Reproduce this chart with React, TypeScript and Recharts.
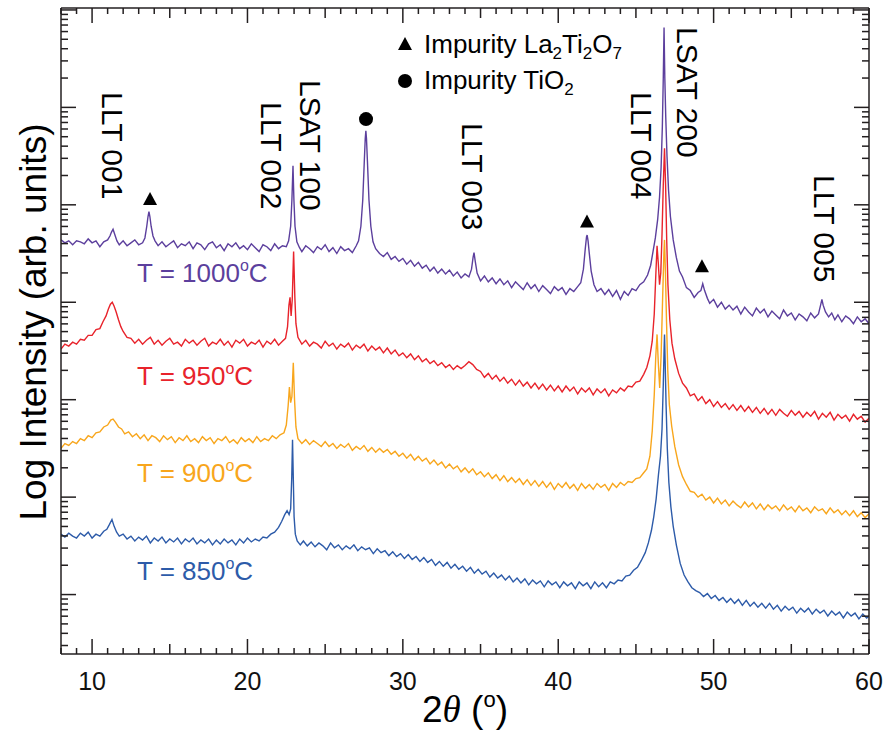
import React from "react";
import { LineChart, Line, XAxis, YAxis, ReferenceDot } from "recharts";

// [2θ (deg), log10 intensity]
const scan1000: number[][] = [
  [8.0, 4.64], [8.25, 4.61], [8.5, 4.63], [8.75, 4.59], [9.0, 4.63], [9.25, 4.62], [9.5, 4.6], [9.75, 4.65],
  [10.0, 4.61], [10.25, 4.63], [10.5, 4.57], [10.75, 4.62], [11.0, 4.64], [11.15, 4.68], [11.25, 4.72],
  [11.35, 4.75], [11.45, 4.7], [11.6, 4.63], [11.75, 4.59], [12.0, 4.63], [12.25, 4.58], [12.5, 4.61],
  [12.75, 4.64], [13.0, 4.59], [13.25, 4.61], [13.4, 4.66], [13.52, 4.78], [13.6, 4.88], [13.66, 4.93],
  [13.72, 4.88], [13.8, 4.78], [13.92, 4.68], [14.05, 4.63], [14.25, 4.58], [14.5, 4.62], [14.75, 4.57],
  [15.0, 4.6], [15.25, 4.63], [15.5, 4.56], [15.75, 4.6], [16.0, 4.58], [16.25, 4.62], [16.5, 4.55],
  [16.75, 4.61], [17.0, 4.59], [17.25, 4.54], [17.5, 4.6], [17.75, 4.62], [18.0, 4.56], [18.25, 4.59],
  [18.5, 4.53], [18.75, 4.6], [19.0, 4.57], [19.25, 4.61], [19.5, 4.55], [19.75, 4.58], [20.0, 4.54],
  [20.25, 4.6], [20.5, 4.56], [20.75, 4.52], [21.0, 4.59], [21.25, 4.57], [21.5, 4.53], [21.75, 4.6],
  [22.0, 4.55], [22.25, 4.58], [22.5, 4.57], [22.65, 4.63], [22.78, 4.78], [22.86, 5.05], [22.93, 5.4],
  [22.99, 5.05], [23.06, 4.78], [23.18, 4.62], [23.35, 4.56], [23.5, 4.52], [23.75, 4.58], [24.0, 4.55],
  [24.25, 4.51], [24.5, 4.57], [24.75, 4.54], [25.0, 4.59], [25.25, 4.52], [25.5, 4.56], [25.75, 4.5],
  [26.0, 4.57], [26.25, 4.53], [26.5, 4.55], [26.75, 4.51], [27.0, 4.58], [27.15, 4.63], [27.3, 4.78],
  [27.42, 5.05], [27.52, 5.45], [27.58, 5.68], [27.62, 5.76], [27.66, 5.68], [27.72, 5.45], [27.82, 5.05],
  [27.94, 4.78], [28.08, 4.62], [28.25, 4.55], [28.5, 4.5], [28.75, 4.47], [29.0, 4.51], [29.25, 4.44],
  [29.5, 4.47], [29.75, 4.42], [30.0, 4.45], [30.25, 4.39], [30.5, 4.43], [30.75, 4.37], [31.0, 4.41],
  [31.25, 4.35], [31.5, 4.38], [31.75, 4.32], [32.0, 4.36], [32.25, 4.3], [32.5, 4.34], [32.75, 4.29],
  [33.0, 4.33], [33.25, 4.27], [33.5, 4.31], [33.75, 4.25], [34.0, 4.29], [34.25, 4.26], [34.42, 4.34],
  [34.52, 4.46], [34.58, 4.51], [34.66, 4.42], [34.78, 4.3], [35.0, 4.22], [35.25, 4.27], [35.5, 4.21],
  [35.75, 4.25], [36.0, 4.19], [36.25, 4.24], [36.5, 4.18], [36.75, 4.22], [37.0, 4.15], [37.25, 4.21],
  [37.5, 4.17], [37.75, 4.13], [38.0, 4.2], [38.25, 4.14], [38.5, 4.18], [38.75, 4.11], [39.0, 4.17],
  [39.25, 4.13], [39.5, 4.09], [39.75, 4.16], [40.0, 4.12], [40.25, 4.15], [40.5, 4.08], [40.75, 4.14],
  [41.0, 4.11], [41.25, 4.16], [41.45, 4.2], [41.62, 4.34], [41.74, 4.55], [41.82, 4.67], [41.86, 4.69],
  [41.92, 4.63], [42.0, 4.5], [42.12, 4.32], [42.3, 4.18], [42.5, 4.11], [42.75, 4.14], [43.0, 4.08],
  [43.25, 4.13], [43.5, 4.06], [43.75, 4.12], [44.0, 4.03], [44.25, 4.11], [44.5, 4.07], [44.75, 4.14],
  [45.0, 4.12], [45.25, 4.18], [45.5, 4.21], [45.75, 4.28], [45.95, 4.38], [46.1, 4.52], [46.25, 4.66],
  [46.4, 4.85], [46.52, 5.08], [46.62, 5.38], [46.7, 5.8], [46.76, 6.3], [46.81, 6.82], [46.86, 6.3],
  [46.92, 5.9], [47.0, 5.5], [47.1, 5.15], [47.22, 4.88], [47.4, 4.64], [47.6, 4.46], [47.8, 4.32],
  [48.0, 4.26], [48.25, 4.15], [48.5, 4.12], [48.75, 4.05], [49.0, 4.1], [49.18, 4.12], [49.3, 4.19],
  [49.42, 4.12], [49.6, 4.04], [49.75, 3.99], [50.0, 4.03], [50.25, 3.95], [50.5, 4.0], [50.75, 3.93],
  [51.0, 3.97], [51.25, 3.92], [51.5, 3.96], [51.75, 3.88], [52.0, 3.95], [52.25, 3.9], [52.5, 3.86],
  [52.75, 3.94], [53.0, 3.89], [53.25, 3.93], [53.5, 3.85], [53.75, 3.91], [54.0, 3.87], [54.25, 3.83],
  [54.5, 3.92], [54.75, 3.86], [55.0, 3.89], [55.25, 3.82], [55.5, 3.88], [55.75, 3.85], [56.0, 3.81],
  [56.25, 3.89], [56.5, 3.84], [56.75, 3.88], [56.9, 3.98], [56.97, 4.03], [57.05, 3.97], [57.2, 3.9],
  [57.4, 3.85], [57.6, 3.89], [57.8, 3.82], [58.0, 3.87], [58.25, 3.8], [58.5, 3.86], [58.75, 3.83],
  [59.0, 3.78], [59.25, 3.85], [59.5, 3.8], [59.75, 3.83], [60.0, 3.78],
];

const scan950: number[][] = [
  [8.0, 3.52], [8.25, 3.57], [8.5, 3.55], [8.75, 3.59], [9.0, 3.57], [9.25, 3.62], [9.5, 3.61], [9.75, 3.66],
  [10.0, 3.66], [10.25, 3.72], [10.5, 3.73], [10.7, 3.8], [10.9, 3.86], [11.05, 3.93], [11.18, 3.98],
  [11.3, 4.0], [11.42, 3.96], [11.55, 3.9], [11.7, 3.82], [11.85, 3.75], [12.0, 3.7], [12.25, 3.64],
  [12.5, 3.63], [12.75, 3.58], [13.0, 3.62], [13.25, 3.57], [13.5, 3.61], [13.75, 3.64], [14.0, 3.57],
  [14.25, 3.61], [14.5, 3.56], [14.75, 3.6], [15.0, 3.63], [15.25, 3.57], [15.5, 3.59], [15.75, 3.55],
  [16.0, 3.62], [16.25, 3.58], [16.5, 3.61], [16.75, 3.56], [17.0, 3.6], [17.25, 3.63], [17.5, 3.55],
  [17.75, 3.59], [18.0, 3.57], [18.25, 3.62], [18.5, 3.56], [18.75, 3.6], [19.0, 3.54], [19.25, 3.61],
  [19.5, 3.58], [19.75, 3.62], [20.0, 3.55], [20.25, 3.59], [20.5, 3.57], [20.75, 3.61], [21.0, 3.54],
  [21.25, 3.6], [21.5, 3.57], [21.75, 3.62], [22.0, 3.56], [22.25, 3.6], [22.45, 3.63], [22.58, 3.75],
  [22.67, 3.97], [22.74, 4.05], [22.81, 3.86], [22.88, 4.02], [22.97, 4.52], [23.05, 4.05], [23.12, 3.78],
  [23.25, 3.64], [23.5, 3.57], [23.75, 3.61], [24.0, 3.55], [24.25, 3.59], [24.5, 3.57], [24.75, 3.53],
  [25.0, 3.6], [25.25, 3.55], [25.5, 3.58], [25.75, 3.52], [26.0, 3.57], [26.25, 3.54], [26.5, 3.58],
  [26.75, 3.51], [27.0, 3.56], [27.25, 3.53], [27.5, 3.57], [27.75, 3.5], [28.0, 3.55], [28.25, 3.51],
  [28.5, 3.54], [28.75, 3.48], [29.0, 3.53], [29.25, 3.47], [29.5, 3.51], [29.75, 3.45], [30.0, 3.48],
  [30.25, 3.43], [30.5, 3.47], [30.75, 3.41], [31.0, 3.45], [31.25, 3.39], [31.5, 3.42], [31.75, 3.37],
  [32.0, 3.4], [32.25, 3.35], [32.5, 3.38], [32.75, 3.33], [33.0, 3.36], [33.25, 3.31], [33.5, 3.35],
  [33.75, 3.32], [34.0, 3.35], [34.25, 3.39], [34.5, 3.36], [34.75, 3.31], [35.0, 3.29], [35.25, 3.23],
  [35.5, 3.27], [35.75, 3.21], [36.0, 3.25], [36.25, 3.19], [36.5, 3.23], [36.75, 3.17], [37.0, 3.21],
  [37.25, 3.15], [37.5, 3.2], [37.75, 3.14], [38.0, 3.18], [38.25, 3.12], [38.5, 3.17], [38.75, 3.11],
  [39.0, 3.16], [39.25, 3.1], [39.5, 3.15], [39.75, 3.09], [40.0, 3.14], [40.25, 3.08], [40.5, 3.14],
  [40.75, 3.09], [41.0, 3.13], [41.25, 3.06], [41.5, 3.12], [41.75, 3.08], [42.0, 3.12], [42.25, 3.05],
  [42.5, 3.11], [42.75, 3.07], [43.0, 3.11], [43.25, 3.04], [43.5, 3.1], [43.75, 3.07], [44.0, 3.12],
  [44.25, 3.09], [44.5, 3.14], [44.75, 3.13], [45.0, 3.18], [45.25, 3.19], [45.5, 3.26], [45.7, 3.33],
  [45.9, 3.45], [46.05, 3.6], [46.18, 3.88], [46.28, 4.28], [46.36, 4.58], [46.44, 4.4], [46.52, 4.18],
  [46.6, 4.3], [46.68, 4.7], [46.76, 5.2], [46.84, 5.58], [46.91, 5.2], [46.98, 4.65], [47.06, 4.18],
  [47.18, 3.82], [47.32, 3.58], [47.5, 3.42], [47.75, 3.27], [48.0, 3.17], [48.25, 3.12], [48.5, 3.04],
  [48.75, 3.06], [49.0, 2.99], [49.25, 3.03], [49.5, 2.96], [49.75, 3.0], [50.0, 2.93], [50.25, 2.98],
  [50.5, 2.92], [50.75, 2.96], [51.0, 2.9], [51.25, 2.95], [51.5, 2.89], [51.75, 2.94], [52.0, 2.88],
  [52.25, 2.93], [52.5, 2.87], [52.75, 2.92], [53.0, 2.86], [53.25, 2.91], [53.5, 2.85], [53.75, 2.9],
  [54.0, 2.84], [54.25, 2.9], [54.5, 2.86], [54.75, 2.83], [55.0, 2.89], [55.25, 2.84], [55.5, 2.88],
  [55.75, 2.82], [56.0, 2.87], [56.25, 2.83], [56.5, 2.88], [56.75, 2.8], [57.0, 2.86], [57.25, 2.82],
  [57.5, 2.87], [57.75, 2.79], [58.0, 2.85], [58.25, 2.81], [58.5, 2.84], [58.75, 2.78], [59.0, 2.85],
  [59.25, 2.8], [59.5, 2.83], [59.75, 2.77], [60.0, 2.81],
];

const scan900: number[][] = [
  [8.0, 2.5], [8.25, 2.55], [8.5, 2.53], [8.75, 2.57], [9.0, 2.55], [9.25, 2.6], [9.5, 2.58], [9.75, 2.63],
  [10.0, 2.61], [10.25, 2.66], [10.5, 2.67], [10.75, 2.72], [11.0, 2.74], [11.2, 2.79], [11.35, 2.8],
  [11.5, 2.77], [11.7, 2.72], [11.9, 2.7], [12.1, 2.65], [12.35, 2.67], [12.6, 2.62], [12.85, 2.65],
  [13.1, 2.6], [13.35, 2.64], [13.6, 2.58], [13.85, 2.63], [14.1, 2.61], [14.35, 2.57], [14.6, 2.63],
  [14.85, 2.59], [15.1, 2.62], [15.35, 2.56], [15.6, 2.61], [15.85, 2.58], [16.1, 2.63], [16.35, 2.57],
  [16.6, 2.6], [16.85, 2.56], [17.1, 2.62], [17.35, 2.58], [17.6, 2.61], [17.85, 2.55], [18.1, 2.6],
  [18.35, 2.58], [18.6, 2.62], [18.85, 2.56], [19.1, 2.59], [19.35, 2.55], [19.6, 2.61], [19.85, 2.57],
  [20.1, 2.6], [20.35, 2.56], [20.6, 2.62], [20.85, 2.57], [21.1, 2.6], [21.35, 2.58], [21.6, 2.63],
  [21.85, 2.6], [22.1, 2.64], [22.35, 2.66], [22.5, 2.74], [22.62, 2.94], [22.7, 3.13], [22.78, 2.97],
  [22.86, 3.03], [22.95, 3.38], [23.03, 3.0], [23.12, 2.72], [23.25, 2.6], [23.5, 2.55], [23.75, 2.59],
  [24.0, 2.54], [24.25, 2.58], [24.5, 2.55], [24.75, 2.52], [25.0, 2.57], [25.25, 2.52], [25.5, 2.55],
  [25.75, 2.5], [26.0, 2.54], [26.25, 2.51], [26.5, 2.55], [26.75, 2.48], [27.0, 2.52], [27.25, 2.49],
  [27.5, 2.53], [27.75, 2.47], [28.0, 2.51], [28.25, 2.46], [28.5, 2.5], [28.75, 2.46], [29.0, 2.49],
  [29.25, 2.44], [29.5, 2.47], [29.75, 2.42], [30.0, 2.45], [30.25, 2.4], [30.5, 2.44], [30.75, 2.38],
  [31.0, 2.42], [31.25, 2.37], [31.5, 2.4], [31.75, 2.34], [32.0, 2.38], [32.25, 2.33], [32.5, 2.36],
  [32.75, 2.3], [33.0, 2.34], [33.25, 2.29], [33.5, 2.32], [33.75, 2.26], [34.0, 2.3], [34.25, 2.25],
  [34.5, 2.29], [34.75, 2.23], [35.0, 2.26], [35.25, 2.21], [35.5, 2.25], [35.75, 2.19], [36.0, 2.23],
  [36.25, 2.17], [36.5, 2.22], [36.75, 2.16], [37.0, 2.2], [37.25, 2.15], [37.5, 2.19], [37.75, 2.13],
  [38.0, 2.18], [38.25, 2.12], [38.5, 2.17], [38.75, 2.11], [39.0, 2.16], [39.25, 2.1], [39.5, 2.15],
  [39.75, 2.08], [40.0, 2.14], [40.25, 2.1], [40.5, 2.15], [40.75, 2.09], [41.0, 2.13], [41.25, 2.07],
  [41.5, 2.14], [41.75, 2.09], [42.0, 2.13], [42.25, 2.08], [42.5, 2.14], [42.75, 2.1], [43.0, 2.13],
  [43.25, 2.07], [43.5, 2.14], [43.75, 2.1], [44.0, 2.15], [44.25, 2.12], [44.5, 2.16], [44.75, 2.15],
  [45.0, 2.19], [45.25, 2.2], [45.5, 2.25], [45.7, 2.29], [45.9, 2.42], [46.05, 2.68], [46.18, 3.05],
  [46.28, 3.45], [46.36, 3.67], [46.44, 3.38], [46.53, 3.12], [46.62, 3.45], [46.72, 4.05], [46.8, 4.5],
  [46.84, 4.64], [46.9, 4.3], [46.97, 3.8], [47.05, 3.3], [47.15, 2.95], [47.3, 2.73], [47.5, 2.52],
  [47.75, 2.33], [48.0, 2.21], [48.25, 2.13], [48.5, 2.06], [48.75, 2.05], [49.0, 2.0], [49.25, 2.03],
  [49.5, 1.97], [49.75, 2.0], [50.0, 1.94], [50.25, 1.99], [50.5, 1.93], [50.75, 1.97], [51.0, 1.91],
  [51.25, 1.96], [51.5, 1.92], [51.75, 1.89], [52.0, 1.95], [52.25, 1.9], [52.5, 1.94], [52.75, 1.88],
  [53.0, 1.93], [53.25, 1.87], [53.5, 1.92], [53.75, 1.88], [54.0, 1.91], [54.25, 1.86], [54.5, 1.92],
  [54.75, 1.87], [55.0, 1.9], [55.25, 1.85], [55.5, 1.91], [55.75, 1.86], [56.0, 1.89], [56.25, 1.84],
  [56.5, 1.9], [56.75, 1.86], [57.0, 1.88], [57.25, 1.83], [57.5, 1.89], [57.75, 1.84], [58.0, 1.87],
  [58.25, 1.82], [58.5, 1.86], [58.75, 1.81], [59.0, 1.86], [59.25, 1.8], [59.5, 1.84], [59.75, 1.79],
  [60.0, 1.83],
];

const scan850: number[][] = [
  [8.0, 1.62], [8.25, 1.59], [8.5, 1.63], [8.75, 1.6], [9.0, 1.58], [9.25, 1.63], [9.5, 1.6], [9.75, 1.64],
  [10.0, 1.58], [10.25, 1.62], [10.5, 1.6], [10.75, 1.65], [10.95, 1.67], [11.12, 1.72], [11.28, 1.77],
  [11.42, 1.7], [11.58, 1.64], [11.75, 1.6], [12.0, 1.62], [12.25, 1.57], [12.5, 1.6], [12.75, 1.55],
  [13.0, 1.59], [13.25, 1.56], [13.5, 1.6], [13.75, 1.53], [14.0, 1.58], [14.25, 1.55], [14.5, 1.59],
  [14.75, 1.53], [15.0, 1.57], [15.25, 1.54], [15.5, 1.58], [15.75, 1.52], [16.0, 1.57], [16.25, 1.54],
  [16.5, 1.58], [16.75, 1.52], [17.0, 1.56], [17.25, 1.53], [17.5, 1.57], [17.75, 1.51], [18.0, 1.56],
  [18.25, 1.52], [18.5, 1.57], [18.75, 1.53], [19.0, 1.56], [19.25, 1.51], [19.5, 1.57], [19.75, 1.53],
  [20.0, 1.58], [20.25, 1.54], [20.5, 1.57], [20.75, 1.55], [21.0, 1.59], [21.25, 1.58], [21.5, 1.62],
  [21.75, 1.64], [22.0, 1.69], [22.2, 1.75], [22.4, 1.82], [22.55, 1.86], [22.68, 1.82], [22.78, 1.88],
  [22.85, 2.2], [22.9, 2.59], [22.95, 2.2], [23.0, 1.8], [23.08, 1.62], [23.2, 1.55], [23.4, 1.51],
  [23.6, 1.55], [23.85, 1.5], [24.1, 1.54], [24.35, 1.49], [24.6, 1.53], [24.85, 1.5], [25.1, 1.46],
  [25.35, 1.53], [25.6, 1.48], [25.85, 1.51], [26.1, 1.46], [26.35, 1.5], [26.6, 1.47], [26.85, 1.51],
  [27.1, 1.45], [27.35, 1.49], [27.6, 1.46], [27.85, 1.48], [28.1, 1.42], [28.35, 1.47], [28.6, 1.43],
  [28.85, 1.45], [29.1, 1.4], [29.35, 1.44], [29.6, 1.39], [29.85, 1.42], [30.1, 1.37], [30.35, 1.41],
  [30.6, 1.36], [30.85, 1.39], [31.1, 1.34], [31.35, 1.38], [31.6, 1.33], [31.85, 1.36], [32.1, 1.3],
  [32.35, 1.34], [32.6, 1.29], [32.85, 1.33], [33.1, 1.27], [33.35, 1.31], [33.6, 1.26], [33.85, 1.29],
  [34.1, 1.24], [34.35, 1.28], [34.6, 1.22], [34.85, 1.26], [35.1, 1.21], [35.35, 1.24], [35.6, 1.18],
  [35.85, 1.22], [36.1, 1.17], [36.35, 1.2], [36.6, 1.15], [36.85, 1.19], [37.1, 1.13], [37.35, 1.17],
  [37.6, 1.12], [37.85, 1.16], [38.1, 1.1], [38.35, 1.15], [38.6, 1.11], [38.85, 1.14], [39.1, 1.08],
  [39.35, 1.14], [39.6, 1.1], [39.85, 1.13], [40.1, 1.07], [40.35, 1.13], [40.6, 1.09], [40.85, 1.12],
  [41.1, 1.06], [41.35, 1.13], [41.6, 1.09], [41.85, 1.12], [42.1, 1.06], [42.35, 1.13], [42.6, 1.08],
  [42.85, 1.12], [43.1, 1.07], [43.35, 1.13], [43.6, 1.11], [43.85, 1.15], [44.1, 1.14], [44.35, 1.19],
  [44.6, 1.2], [44.85, 1.25], [45.1, 1.28], [45.35, 1.35], [45.6, 1.43], [45.8, 1.53], [46.0, 1.66],
  [46.15, 1.8], [46.3, 1.98], [46.45, 2.23], [46.58, 2.42], [46.68, 2.7], [46.76, 3.15], [46.81, 3.5],
  [46.84, 3.67], [46.88, 3.4], [46.94, 2.95], [47.02, 2.5], [47.12, 2.15], [47.25, 1.9], [47.4, 1.7],
  [47.6, 1.51], [47.85, 1.32], [48.1, 1.2], [48.35, 1.13], [48.6, 1.07], [48.85, 1.04], [49.1, 1.02],
  [49.35, 0.98], [49.6, 1.01], [49.85, 0.96], [50.1, 0.99], [50.35, 0.94], [50.6, 0.97], [50.85, 0.92],
  [51.1, 0.96], [51.35, 0.91], [51.6, 0.95], [51.85, 0.89], [52.1, 0.94], [52.35, 0.88], [52.6, 0.92],
  [52.85, 0.87], [53.1, 0.91], [53.35, 0.86], [53.6, 0.91], [53.85, 0.85], [54.1, 0.89], [54.35, 0.83],
  [54.6, 0.88], [54.85, 0.84], [55.1, 0.87], [55.35, 0.81], [55.6, 0.86], [55.85, 0.82], [56.1, 0.86],
  [56.35, 0.8], [56.6, 0.85], [56.85, 0.81], [57.1, 0.84], [57.35, 0.78], [57.6, 0.83], [57.85, 0.79],
  [58.1, 0.82], [58.35, 0.76], [58.6, 0.82], [58.85, 0.78], [59.1, 0.81], [59.35, 0.75], [59.6, 0.8],
  [59.85, 0.76], [60.0, 0.78],
];

// impurity markers: [2θ, log10 intensity just above the peak]
const la2ti2o7Marks: number[][] = [[13.73, 5.06], [41.85, 4.83], [49.25, 4.37]];
const tio2Marks: number[][] = [[27.63, 5.88]];

const xLabels = [10, 20, 30, 40, 50, 60];
const xDomain = [8, 60];
const yDomain = [0.39, 7.02];
const decades = [0, 1, 2, 3, 4, 5, 6];

const xTicks = Array.from({ length: xDomain[1] - xDomain[0] + 1 }, (_, i) => xDomain[0] + i);
const yTicks = [
  ...decades.flatMap((n) => [1, 2, 3, 4, 5, 6, 7, 8, 9].map((k) => n + Math.log10(k))),
  7,
].filter((v) => v >= yDomain[0] && v <= yDomain[1]);

const PURPLE = "#5c3f9d";
const RED = "#e8232b";
const ORANGE = "#f8a61c";
const BLUE = "#2d5ba9";
const INK = "#231f20";
const FONT = "'Liberation Sans', Arial, Helvetica, sans-serif";

const toPts = (rows: number[][]) => rows.map(([t, v]) => ({ t, v }));

const xLen = (v: number) => (v % 10 === 0 ? 15 : v % 5 === 0 ? 10 : 6);
const isDecade = (v: number) => Math.abs(v - Math.round(v)) < 1e-6;

function BottomTick({ x, y, payload }: any) {
  const v = payload.value;
  return (
    <g>
      <line x1={x} x2={x} y1={y} y2={y - xLen(v)} stroke={INK} strokeWidth={1.5} />
      {xLabels.includes(v) && (
        <text x={x} y={y + 36} textAnchor="middle" fontSize={25} fontFamily={FONT} fill="#111">
          {v}
        </text>
      )}
    </g>
  );
}

function TopTick({ x, y, payload }: any) {
  return <line x1={x} x2={x} y1={y} y2={y + xLen(payload.value)} stroke={INK} strokeWidth={1.5} />;
}

function LeftTick({ x, y, payload }: any) {
  const len = isDecade(payload.value) ? 15 : 7;
  return <line x1={x} x2={x + len} y1={y} y2={y} stroke={INK} strokeWidth={1.5} />;
}

function RightTick({ x, y, payload }: any) {
  const len = isDecade(payload.value) ? 15 : 7;
  return <line x1={x} x2={x - len} y1={y} y2={y} stroke={INK} strokeWidth={1.5} />;
}

function Triangle({ cx, cy }: any) {
  return <polygon points={`${cx - 7},${cy + 6} ${cx + 7},${cy + 6} ${cx},${cy - 7}`} fill="#000" />;
}

function Dot({ cx, cy }: any) {
  return <circle cx={cx} cy={cy} r={7} fill="#000" />;
}

const peakLabels = [
  { text: "LLT 001", x: 112, y: 92 },
  { text: "LLT 002", x: 271, y: 102 },
  { text: "LSAT 100", x: 310, y: 80 },
  { text: "LLT 003", x: 472, y: 123 },
  { text: "LLT 004", x: 641, y: 92 },
  { text: "LSAT 200", x: 687, y: 27 },
  { text: "LLT 005", x: 824, y: 175 },
];

const tempLabels = [
  { t: "1000", color: PURPLE, y: 282 },
  { t: "950", color: RED, y: 385 },
  { t: "900", color: ORANGE, y: 482 },
  { t: "850", color: BLUE, y: 580 },
];

const series = [
  { rows: scan1000, color: PURPLE, name: "1000" },
  { rows: scan950, color: RED, name: "950" },
  { rows: scan900, color: ORANGE, name: "900" },
  { rows: scan850, color: BLUE, name: "850" },
];

const axisLine = { stroke: INK, strokeWidth: 1.5 };

export default function App() {
  return (
    <div style={{ position: "absolute", left: 0, top: 0, width: 885, height: 733, background: "#fff" }}>
      <LineChart width={885} height={733} margin={{ top: 7, right: 15, bottom: 78, left: 60 }}>
        <XAxis
          xAxisId="b"
          dataKey="t"
          type="number"
          domain={xDomain}
          ticks={xTicks}
          interval={0}
          allowDataOverflow
          height={1}
          tickSize={0}
          tickMargin={0}
          tickLine={false}
          axisLine={axisLine}
          tick={<BottomTick />}
        />
        <XAxis
          xAxisId="t"
          orientation="top"
          dataKey="t"
          type="number"
          domain={xDomain}
          ticks={xTicks}
          interval={0}
          allowDataOverflow
          height={1}
          tickSize={0}
          tickMargin={0}
          tickLine={false}
          axisLine={axisLine}
          tick={<TopTick />}
        />
        <YAxis
          yAxisId="l"
          type="number"
          domain={yDomain}
          ticks={yTicks}
          interval={0}
          allowDataOverflow
          width={1}
          tickSize={0}
          tickMargin={0}
          tickLine={false}
          axisLine={axisLine}
          tick={<LeftTick />}
        />
        <YAxis
          yAxisId="r"
          orientation="right"
          type="number"
          domain={yDomain}
          ticks={yTicks}
          interval={0}
          allowDataOverflow
          width={1}
          tickSize={0}
          tickMargin={0}
          tickLine={false}
          axisLine={axisLine}
          tick={<RightTick />}
        />
        {series.map((s) => (
          <Line
            key={s.name}
            xAxisId="b"
            yAxisId="l"
            data={toPts(s.rows)}
            dataKey="v"
            type="linear"
            stroke={s.color}
            strokeWidth={1.4}
            dot={false}
            isAnimationActive={false}
          />
        ))}
        {la2ti2o7Marks.map(([t, v]) => (
          <ReferenceDot key={`tri${t}`} xAxisId="b" yAxisId="l" x={t} y={v} shape={<Triangle />} />
        ))}
        {tio2Marks.map(([t, v]) => (
          <ReferenceDot key={`dot${t}`} xAxisId="b" yAxisId="l" x={t} y={v} shape={<Dot />} />
        ))}
      </LineChart>

      <svg
        width={885}
        height={733}
        style={{ position: "absolute", left: 0, top: 0, pointerEvents: "none" }}
        fontFamily={FONT}
      >
        {peakLabels.map((p) => (
          <text
            key={p.text}
            transform={`translate(${p.x},${p.y}) rotate(90)`}
            fontSize={30}
            dominantBaseline="central"
            fill="#000"
          >
            {p.text}
          </text>
        ))}

        {tempLabels.map((l) => (
          <text key={l.t} x={137} y={l.y} fontSize={26} fill={l.color}>
            T = {l.t}
            <tspan dy={-11} fontSize={16}>o</tspan>
            <tspan dy={11}>C</tspan>
          </text>
        ))}

        <polygon points="398,50 412,50 405,37" fill="#000" />
        <text x={424} y={53} fontSize={26} fill="#000">
          Impurity La<tspan dy={6} fontSize={17}>2</tspan>
          <tspan dy={-6}>Ti</tspan>
          <tspan dy={6} fontSize={17}>2</tspan>
          <tspan dy={-6}>O</tspan>
          <tspan dy={6} fontSize={17}>7</tspan>
        </text>
        <circle cx={405} cy={81} r={7} fill="#000" />
        <text x={424} y={89} fontSize={26} fill="#000">
          Impurity TiO<tspan dy={6} fontSize={17}>2</tspan>
        </text>

        <text x={465} y={722} fontSize={37} textAnchor="middle" fill="#000">
          2
          <tspan fontFamily="'Liberation Serif', 'DejaVu Serif', serif" fontStyle="italic">θ</tspan>
          <tspan> (</tspan>
          <tspan dy={-15} fontSize={22}>o</tspan>
          <tspan dy={15}>)</tspan>
        </text>
        <text
          transform="translate(46,322) rotate(-90)"
          fontSize={37}
          textAnchor="middle"
          fill="#000"
        >
          Log Intensity (arb. units)
        </text>
      </svg>
    </div>
  );
}
